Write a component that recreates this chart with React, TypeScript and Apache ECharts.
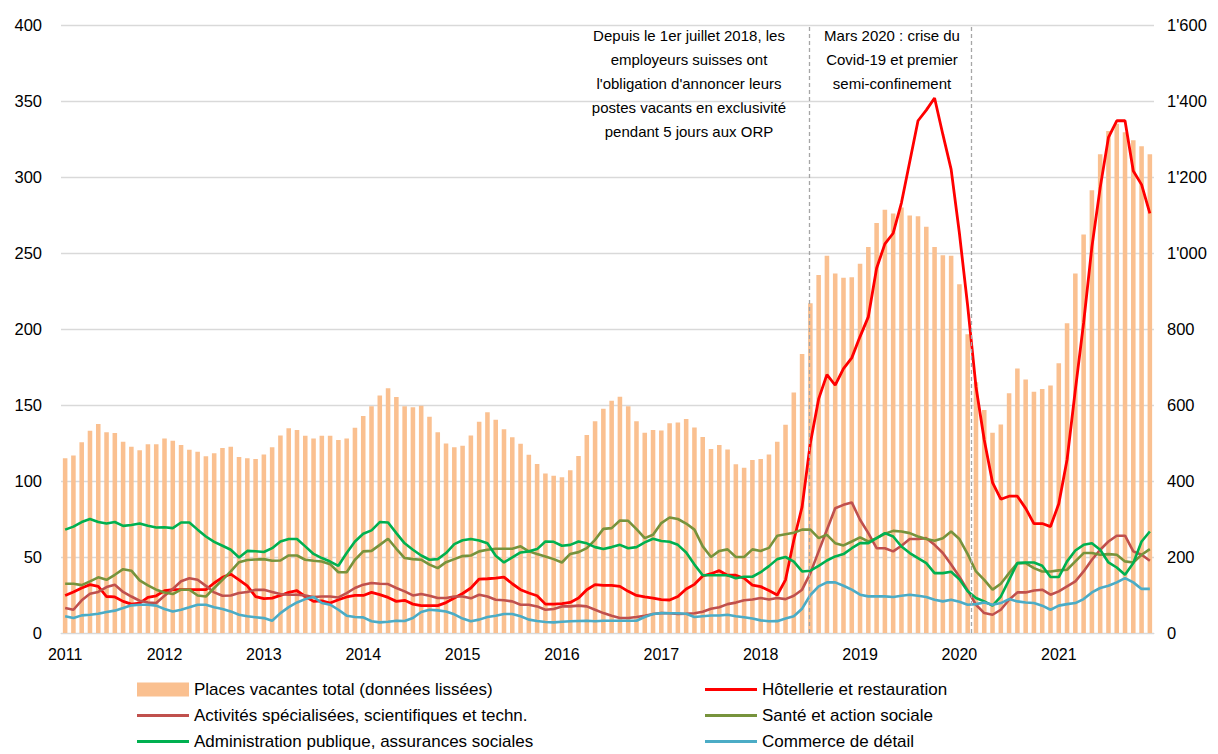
import React, { useEffect, useRef } from "react";
import * as echarts from "echarts";

const years = [2011, 2012, 2013, 2014, 2015, 2016, 2017, 2018, 2019, 2020, 2021];
const months = years.flatMap((y) =>
  ["01", "02", "03", "04", "05", "06", "07", "08", "09", "10", "11", "12"].map((m) => `${y}-${m}`)
);

// Places vacantes total (données lissées) — right axis
const totalVacancies = [
  460, 467, 502, 532, 550, 528, 526, 503, 490, 481, 497, 497,
  512, 506, 495, 482, 477, 465, 473, 487, 490, 463, 460, 458,
  470, 489, 520, 539, 534, 519, 512, 519, 519, 508, 512, 540,
  571, 597, 625, 644, 621, 597, 594, 598, 569, 528, 499, 489,
  493, 520, 556, 581, 561, 536, 515, 498, 469, 445, 420, 414,
  410, 428, 466, 521, 557, 590, 611, 622, 597, 557, 527, 534,
  533, 552, 554, 563, 541, 516, 484, 495, 483, 444, 435, 455,
  458, 470, 503, 548, 633, 734, 868, 942, 993, 946, 935, 936,
  972, 1016, 1079, 1114, 1104, 1120, 1099, 1097, 1069, 1016, 994, 993,
  918, 786, 660, 587, 527, 549, 631, 696, 667, 635, 642, 651,
  710, 815, 946, 1049, 1165, 1260, 1321, 1340, 1318, 1297, 1281, 1260,
];

const hotellerie = [
  24.7, 27, 29.6, 31.8, 30.7, 24, 23.7, 20.8, 19, 19.7, 23.4, 24.5,
  27.8, 28.5, 28.5, 28.5, 28.5, 28.5, 32.9, 36.6, 38.8, 35, 31, 24,
  22.6, 23, 24.7, 26.7, 27.8, 24, 20.8, 21.2, 19.7, 21.9, 23.7, 24.7,
  24.7, 26.7, 25.2, 23.4, 20.8, 21.5, 19, 18, 18, 18, 20, 23,
  26, 29.6, 35.5, 35.7, 36.1, 36.8, 32.4, 28.5, 26.3, 24.5, 19, 19,
  19.3, 20.1, 23, 28.5, 31.8, 31.3, 31.3, 30.7, 27.4, 24.7, 23.7, 23,
  22, 21.7, 24, 29, 32, 37.5, 39, 41, 38, 38, 36, 31.5,
  30.5, 28, 25, 35, 61, 83, 125, 154, 170, 163, 174, 181,
  195, 208, 240, 256, 263, 283, 310, 337, 344, 352, 328, 305,
  263, 215, 162, 127, 99, 88, 90, 90, 82, 72, 72, 70,
  85, 114, 160, 204, 254, 293, 326, 337, 337, 304, 295, 276,
];

const activites = [
  16.4, 15.3, 21.5, 25.8, 27, 30.2, 31.8, 27, 24, 21.2, 20, 19.7,
  24.5, 29, 34, 36, 35, 31, 26.7, 24.5, 24.7, 26.3, 27, 28.5,
  28.4, 27, 25.6, 25.2, 25.2, 24.7, 23.7, 24, 24, 23.4, 26.3, 29.6,
  31.8, 32.9, 32.4, 32.2, 29.6, 27.4, 24.7, 25.6, 24.5, 23, 23, 24,
  24, 22.8, 25.2, 24, 21.9, 21.5, 20.8, 18.6, 18.6, 17.5, 15.3, 15.8,
  17.5, 17.5, 18, 17.5, 15.3, 13.1, 11.4, 9.9, 9.9, 10.5, 11.4, 12.5,
  13.1, 13, 12.5, 12.7, 13, 14, 16, 17, 19, 20, 21.5, 22,
  23, 22, 23, 22.3, 24.5, 28.5, 39.4, 53.7, 67.9, 82.1, 84.3, 85.9,
  74.5, 65.7, 55.8, 55.8, 53.7, 57.4, 61.8, 61.8, 62.4, 58, 52.6, 45,
  37, 28, 18.6, 13.1, 12, 15.3, 21.9, 26.7, 26.7, 28, 28.5, 25.2,
  27.4, 30.7, 34, 40.5, 48.2, 54.8, 60.2, 64, 64, 53.7, 51.5, 47.5,
];

const sante = [
  32.4, 32.4, 31.5, 34, 36.6, 35, 38.3, 42, 41, 34.6, 31.3, 28.5,
  26.7, 25.6, 28.5, 28.5, 24.7, 24, 29.6, 35, 40.5, 46.6, 48, 48.4,
  48.6, 47.5, 47.7, 51, 51, 48.2, 47.5, 47, 45.3, 40, 40, 48.2,
  53.7, 54, 58, 62, 55.4, 49.3, 48.6, 48.2, 45, 42.7, 46.6, 48.6,
  50.6, 51, 53.7, 54.8, 55.4, 55.4, 55.4, 57, 53.7, 52, 50.4, 48.6,
  46.4, 52, 53.2, 55.8, 61.3, 68.5, 69, 74, 73.8, 68.3, 62.4, 64.6,
  72.3, 76, 75, 72, 68, 57, 50, 54, 55, 50, 50, 55,
  54, 56, 64, 65, 66, 68, 68, 62.4, 64.6, 59.1, 57.6, 60.2,
  62.9, 60.2, 62.4, 65.3, 67.2, 66.8, 65.7, 63.5, 61.8, 60.7, 62.4, 66.8,
  61.8, 51.9, 40.5, 35, 28.5, 32.4, 39.4, 46, 46, 42.7, 40.5, 40.5,
  41.2, 41.6, 47.1, 52.6, 52.6, 51.5, 51.9, 51.5, 47.1, 46.4, 51.5, 55.2,
];

const administration = [
  68, 70, 73, 75, 73, 72, 73, 70.5, 71, 72, 70.5, 69.4,
  69.6, 69, 72.7, 72.7, 68, 63.5, 60, 57.4, 54.8, 49.7, 54, 53.8,
  53.3, 55.8, 60.2, 61.8, 61.8, 57, 52, 49.3, 47, 44.2, 52.6, 60.2,
  65.3, 67.5, 73, 72.7, 65.7, 59, 54.8, 51, 48.2, 48.6, 52.6, 58.5,
  61, 61.8, 60.9, 59, 50.8, 46.4, 49.7, 53, 53.7, 55.2, 60.2, 60,
  57.4, 58, 60.2, 59, 56.5, 55.2, 56.5, 58, 55.8, 56.5, 59.6, 62,
  60.5, 60, 58, 53, 45, 38, 38, 38, 38, 36, 37, 37,
  40, 44, 48.6, 50, 47, 40.5, 41, 44.2, 47.7, 50.4, 51.9, 55.8,
  59.1, 59.1, 62.4, 65.7, 63.5, 56.9, 52.6, 49.3, 46, 39.4, 39.4, 40.3,
  35.3, 27.4, 23, 20.8, 18, 24, 35, 46, 46.4, 46.4, 44.2, 36.8,
  36.8, 47.1, 54.3, 58, 59.1, 54.8, 46.4, 43.1, 38.3, 46, 60.2, 66.8,
];

const commerce = [
  11, 9.9, 11.6, 12, 12.7, 13.8, 14.7, 16.4, 18.2, 18.6, 18.6, 18,
  15.8, 14.2, 15.3, 16.9, 18.6, 18.6, 17, 15.8, 14.2, 12, 11, 10.4,
  9.8, 8.1, 13.1, 17, 20.1, 22.3, 23.7, 19.7, 18.6, 15.3, 11.4, 10.5,
  10.3, 7.7, 7, 7.4, 8.1, 7.9, 9.9, 13.8, 15.3, 14.9, 14.2, 12.3,
  9.5, 7.7, 8.8, 10.5, 11.4, 12.5, 12.5, 11, 8.8, 7.9, 7.2, 7,
  7.4, 7.7, 7.9, 8.1, 7.7, 8.1, 8.1, 8.1, 8.1, 8.1, 10.5, 12.5,
  13.1, 13, 13, 12.7, 10.5, 11, 11.5, 11.5, 12, 11, 10.4, 9.5,
  8.3, 7.7, 7.8, 9.5, 11, 16, 25, 30.7, 33.3, 33.3, 31.1, 28.5,
  25.2, 24.1, 24.1, 24.1, 23.7, 24.5, 25.2, 24.5, 23.7, 21.9, 20.8, 21.9,
  20.5, 18.6, 19, 20.1, 18.6, 19.7, 22.3, 20.8, 20.1, 19.7, 18, 15.3,
  18, 19, 19.7, 22.3, 26.7, 29.6, 31.1, 33.3, 36.1, 33.3, 29, 29,
];

// Event markers (month index on the time axis)
const eventMonths = [89.85, 109.4];
const eventTexts = [
  "Depuis le 1er juillet 2018, les\nemployeurs suisses ont\nl'obligation d'annoncer leurs\npostes vacants en exclusivité\npendant 5 jours aux ORP",
  "Mars 2020 : crise du\nCovid-19 et premier\nsemi-confinement",
];

const leftTicks = { min: 0, max: 400, interval: 50 };
const rightTicks = { min: 0, max: 1600, interval: 200 };

const NAMES = {
  total: "Places vacantes total (données lissées)",
  hot: "Hôtellerie et restauration",
  act: "Activités spécialisées, scientifiques et techn.",
  san: "Santé et action sociale",
  adm: "Administration publique, assurances sociales",
  com: "Commerce de détail",
};

const FONT = "'Liberation Sans', Arial, Helvetica, sans-serif";

function fmtThousands(v: number): string {
  if (v >= 1000) {
    const th = Math.floor(v / 1000);
    const rest = String(v % 1000).padStart(3, "0");
    return `${th}'${rest}`;
  }
  return String(v);
}

export default function App() {
  const ref = useRef<HTMLDivElement>(null);

  useEffect(() => {
    if (!ref.current) return;
    const chart = echarts.init(ref.current, undefined, { renderer: "svg" });

    const lineSeries = (name: string, data: number[], color: string, width = 2.6) => ({
      name,
      type: "line",
      data,
      yAxisIndex: 0,
      xAxisIndex: 0,
      symbol: "none",
      showSymbol: false,
      lineStyle: { color, width },
      itemStyle: { color },
      z: 3,
    });

    const legendItem = (name: string, left: number, top: number, isLine: boolean) => ({
      data: [isLine ? { name, icon: "rect" } : { name, icon: "rect" }],
      left,
      top,
      padding: 0,
      itemWidth: 52,
      itemHeight: isLine ? 3 : 14,
      selectedMode: false,
      textStyle: { fontSize: 17, color: "#000", fontFamily: FONT },
    });

    const option: any = {
      animation: false,
      textStyle: { fontFamily: FONT },
      grid: { left: 61, right: 64, top: 25, bottom: 121, containLabel: false },
      legend: [
        legendItem(NAMES.total, 137, 681, false),
        legendItem(NAMES.hot, 705, 681, true),
        legendItem(NAMES.act, 137, 707, true),
        legendItem(NAMES.san, 705, 707, true),
        legendItem(NAMES.adm, 137, 733, true),
        legendItem(NAMES.com, 705, 733, true),
      ],
      xAxis: [
        {
          type: "category",
          data: months,
          boundaryGap: true,
          axisLine: { show: true, lineStyle: { color: "#D9D9D9", width: 1 } },
          axisTick: { show: false },
          axisLabel: {
            interval: (idx: number) => idx % 12 === 0,
            formatter: (v: string) => v.slice(0, 4),
            fontSize: 16,
            color: "#000",
            margin: 13,
            fontFamily: FONT,
          },
          splitLine: { show: false },
        },
        { type: "value", min: -0.5, max: 131.5, show: false },
      ],
      yAxis: [
        {
          type: "value",
          ...leftTicks,
          position: "left",
          axisLine: { show: false },
          axisTick: { show: false },
          axisLabel: { fontSize: 16.5, color: "#000", margin: 19, fontFamily: FONT },
          splitLine: { show: true, lineStyle: { color: "#D9D9D9", width: 1.3 } },
        },
        {
          type: "value",
          ...rightTicks,
          position: "right",
          axisLine: { show: false },
          axisTick: { show: false },
          axisLabel: {
            fontSize: 16.5,
            color: "#000",
            margin: 13,
            fontFamily: FONT,
            formatter: (v: number) => fmtThousands(v),
          },
          splitLine: { show: false },
        },
      ],
      series: [
        {
          name: NAMES.total,
          type: "bar",
          data: totalVacancies,
          yAxisIndex: 1,
          xAxisIndex: 0,
          barCategoryGap: "45%",
          itemStyle: { color: "#FAC090" },
          z: 1,
        },
        {
          name: "events",
          type: "line",
          data: [],
          xAxisIndex: 1,
          yAxisIndex: 0,
          silent: true,
          markLine: {
            silent: true,
            symbol: ["none", "none"],
            label: { show: false },
            lineStyle: { type: [4, 3], color: "#A6A6A6", width: 1.3 },
            data: eventMonths.map((m) => ({ xAxis: m })),
          },
          z: 2,
        },
        lineSeries(NAMES.hot, hotellerie, "#FF0000", 2.8),
        lineSeries(NAMES.act, activites, "#C0504D"),
        lineSeries(NAMES.san, sante, "#77933C"),
        lineSeries(NAMES.adm, administration, "#00B050"),
        lineSeries(NAMES.com, commerce, "#4BACC6"),
      ],
      graphic: [
        {
          type: "text",
          x: 689,
          y: 23,
          style: {
            text: eventTexts[0],
            fontSize: 15,
            lineHeight: 24,
            fontFamily: FONT,
            fill: "#000",
            textAlign: "center",
            textVerticalAlign: "top",
          },
        },
        {
          type: "text",
          x: 892,
          y: 23,
          style: {
            text: eventTexts[1],
            fontSize: 15,
            lineHeight: 24,
            fontFamily: FONT,
            fill: "#000",
            textAlign: "center",
            textVerticalAlign: "top",
          },
        },
      ],
    };

    chart.setOption(option);
    return () => chart.dispose();
  }, []);

  return (
    <div
      ref={ref}
      style={{ position: "absolute", left: 0, top: 0, width: 1218, height: 754, background: "#fff" }}
    />
  );
}
